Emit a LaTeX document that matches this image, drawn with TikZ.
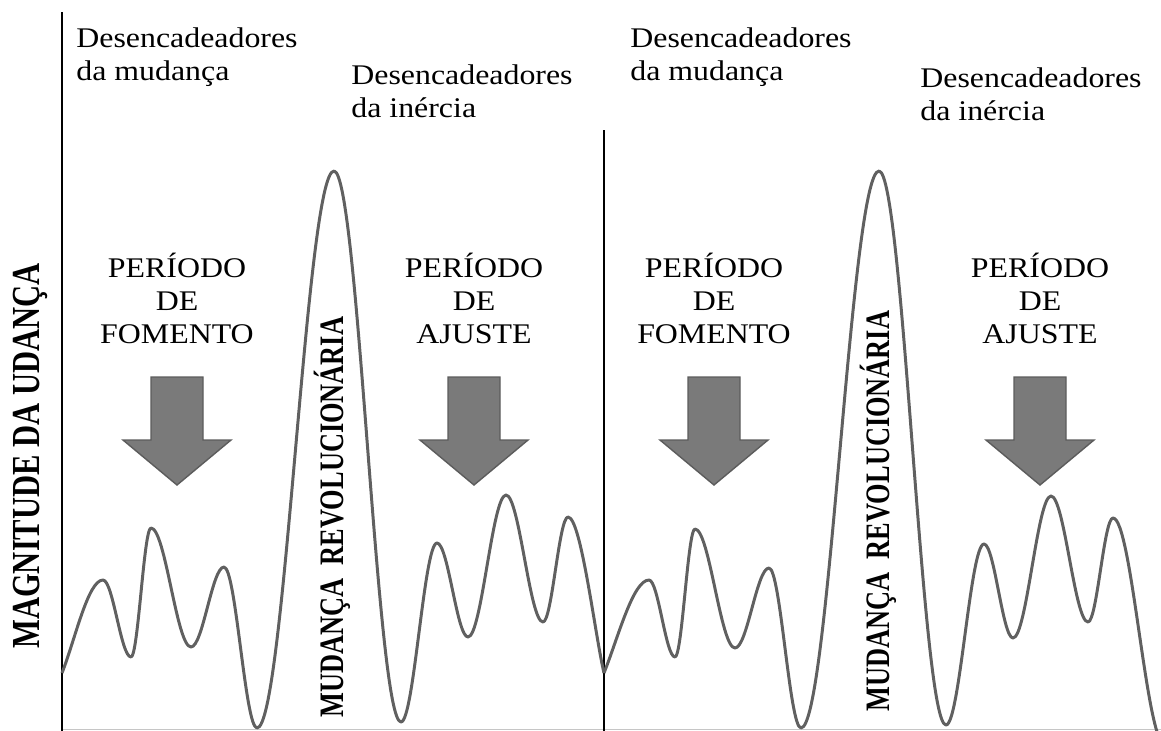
\documentclass[tikz,border=0pt]{standalone}
\usepackage{graphicx}
\usepackage{fontspec}
\setmainfont[FakeStretch=1.12]{Liberation Serif}
\newfontfamily\rotfont{Liberation Serif}
\definecolor{wavegray}{HTML}{606060}
\definecolor{arrowfill}{HTML}{7A7A7A}
\definecolor{arrowline}{HTML}{5C5C5C}
\newcommand{\tallcaps}[1]{\scalebox{1}[1.3]{#1}}

\begin{document}
\begin{tikzpicture}[x=0.02cm, y=-0.02cm,
	txt/.style={inner sep=0pt, font=\fontsize{16.2}{18.8}\selectfont},
	period/.style={txt, align=center, anchor=north},
	trigger/.style={txt, align=left, anchor=north west},
	vlabel/.style={inner sep=0pt, rotate=90, anchor=base},
	wave/.style={draw=wavegray, line width=1.7pt, line join=round},
	blockarrow/.style={fill=arrowfill, draw=arrowline, line width=0.8pt},
	axis/.style={line width=1.4pt}]
	\useasboundingbox (0,0) rectangle (1161,731);
	\clip (0,0) rectangle (1161,731);

	% axes
	\draw[gray!45, line width=0.8pt] (62,729.5) -- (1161,729.5);
	\draw[axis] (62,12) -- (62,731);
	\draw[axis] (604,130) -- (604,731);

	% first cycle
	\draw[wave] (62,673) .. controls (75,640) and (88,580) .. (103,580)
		\foreach \x/\y [remember=\x as \lx (initially 103), remember=\y as \ly (initially 580)] in
		{131/657, 151/528, 191/647, 224/567, 257/728, 334/171, 401/722, 437/543, 468/637, 506/495, 543/622, 568/517}
		{ .. controls ({\lx+0.36*(\x-\lx)},\ly) and ({\x-0.36*(\x-\lx)},\y) .. (\x,\y) }
		.. controls (581,517) and (595,635) .. (604,673);

	% second cycle
	\draw[wave] (604,673) .. controls (618,638) and (633,580) .. (649,580)
		\foreach \x/\y [remember=\x as \lx (initially 649), remember=\y as \ly (initially 580)] in
		{675/657, 695/529, 735/648, 769/568, 801/728, 879/171, 946/725, 984/544, 1013/638, 1051/496, 1088/622, 1113/518, 1165/745}
		{ .. controls ({\lx+0.36*(\x-\lx)},\ly) and ({\x-0.36*(\x-\lx)},\y) .. (\x,\y) };

	\foreach \ax in {177, 474, 714, 1040}
		\draw[blockarrow] (\ax-26,377) -- (\ax+26,377) -- (\ax+26,440) -- (\ax+54,440)
			-- (\ax,485) -- (\ax-54,440) -- (\ax-26,440) -- cycle;

	\node[trigger] (mudA) at (76,27) {Desencadeadores\\da mudança};
	\node[trigger] (inerA) at (351,64) {Desencadeadores\\da inércia};
	\node[trigger] (mudB) at (630,27) {Desencadeadores\\da mudança};
	\node[trigger] (inerB) at (920,67) {Desencadeadores\\da inércia};

	\node[period] (fomA) at (177,253) {PERÍODO\\DE\\FOMENTO};
	\node[period] (ajuA) at (474,253) {PERÍODO\\DE\\AJUSTE};
	\node[period] (fomB) at (714,253) {PERÍODO\\DE\\FOMENTO};
	\node[period] (ajuB) at (1040,253) {PERÍODO\\DE\\AJUSTE};

	\node[vlabel, font=\rotfont\bfseries\fontsize{17.4}{20}\selectfont] (magn) at (39,456) {\tallcaps{MAGNITUDE DA UDANÇA}};
	\node[vlabel, font=\rotfont\bfseries\fontsize{15}{18}\selectfont] (revA) at (343,517) {\tallcaps{MUDANÇA\ \ REVOLUCIONÁRIA}};
	\node[vlabel, font=\rotfont\bfseries\fontsize{15}{18}\selectfont] (revB) at (889,511) {\tallcaps{MUDANÇA\ \ REVOLUCIONÁRIA}};
\end{tikzpicture}
\end{document}
